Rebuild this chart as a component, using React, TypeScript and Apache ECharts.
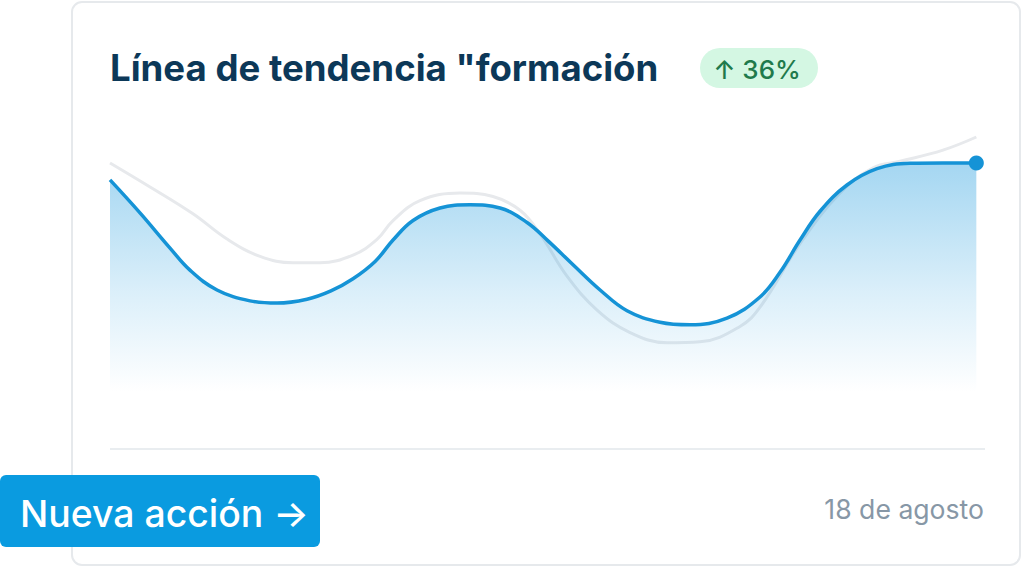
import React, { useEffect, useRef } from "react";
import * as echarts from "echarts";

const titleText = 'Línea de tendencia "formación';
const badgeText = "↑ 36%";
const buttonText = "Nueva acción →";
const dateText = "18 de agosto";

const trendX = [0, 3.46, 6.93, 9.23, 12.35, 16.16, 19.28, 22.74, 25.5, 28.05, 30.6, 32.67, 34.98, 38.09, 41.56, 45.02, 48.14, 50.5, 53.45, 56.57, 59.68, 63.49, 66.95, 71.22, 75.03, 77.34, 79.65, 81.96, 85.07, 88.54, 92.35, 96.15, 100];
const trendY = [84.1, 73.8, 62.8, 55.9, 49.7, 46.3, 45.6, 46.8, 49.4, 53.2, 58.6, 65.3, 71.4, 75.3, 76.3, 75.3, 70.8, 65.2, 57.6, 49.7, 43.2, 39.6, 38.8, 40.9, 47.5, 55.2, 65.3, 74.3, 82.5, 87.6, 89.3, 89.4, 89.4];

const refX = [0, 4.62, 9.58, 13.51, 17.32, 21.12, 24.24, 28.05, 30.82, 32.67, 35.78, 40.4, 44.21, 47.33, 49.64, 52.75, 56.22, 60.03, 64.3, 68.1, 72.72, 75.03, 79.65, 84.27, 88.08, 91.19, 96.15, 100];
const refY = [89.4, 81.9, 73.5, 65.6, 60.2, 58.2, 58.2, 60.6, 65.5, 71.4, 77.6, 80, 78.9, 74.6, 67.2, 54, 43.4, 36.4, 33.2, 33.5, 38.3, 44.3, 64.2, 80, 87.9, 89.9, 93.4, 97.5];

const BLUE = "#1593d6";
const FONT = "Inter, 'Noto Sans', sans-serif";

export default function App() {
  const ref = useRef<HTMLDivElement>(null);
  useEffect(() => {
    if (!ref.current) return;
    const chart = echarts.init(ref.current, undefined, { renderer: "svg" });
    const trend = trendX.map((x, i) => [x, trendY[i]]);
    const reference = refX.map((x, i) => [x, refY[i]]);
    chart.setOption({
      animation: false,
      backgroundColor: "#ffffff",
      grid: { left: 110, right: 39, top: 129, bottom: 118 },
      xAxis: {
        type: "value",
        min: 0,
        max: 101,
        axisLine: { show: false },
        axisTick: { show: false },
        axisLabel: { show: false },
        splitLine: { show: false },
      },
      yAxis: {
        type: "value",
        min: 0,
        max: 100,
        axisLine: { show: false },
        axisTick: { show: false },
        axisLabel: { show: false },
        splitLine: { show: false },
      },
      graphic: [
        {
          type: "rect",
          shape: { x: 72, y: 2, width: 948, height: 563, r: 10 },
          style: { fill: "#ffffff", stroke: "#e6e9ec", lineWidth: 2 },
          z: -10,
        },
        {
          type: "line",
          shape: { x1: 110, y1: 449, x2: 985, y2: 449 },
          style: { stroke: "#e9edf0", lineWidth: 2 },
          z: 1,
        },
        {
          type: "text",
          x: 110,
          y: 68,
          style: {
            text: titleText,
            font: `bold 36.6px ${FONT}`,
            fill: "#0c3858",
            verticalAlign: "middle",
          },
        },
        {
          type: "rect",
          shape: { x: 700, y: 48, width: 118, height: 40, r: 20 },
          style: { fill: "#d4f7e3" },
        },
        {
          type: "text",
          x: 757,
          y: 69,
          style: {
            text: badgeText,
            font: `500 26px ${FONT}`,
            fill: "#1f7a4c",
            align: "center",
            verticalAlign: "middle",
          },
        },
        {
          type: "rect",
          shape: { x: 0, y: 475, width: 320, height: 72, r: 6 },
          style: { fill: "#0a9be0" },
          z: 5,
        },
        {
          type: "text",
          x: 20,
          y: 513,
          style: {
            text: buttonText,
            font: `500 37.4px ${FONT}`,
            fill: "#ffffff",
            verticalAlign: "middle",
          },
          z: 6,
        },
        {
          type: "text",
          x: 984,
          y: 509,
          style: {
            text: dateText,
            font: `400 26.6px ${FONT}`,
            fill: "#8797a6",
            align: "right",
            verticalAlign: "middle",
          },
        },
      ],
      series: [
        {
          type: "line",
          data: reference,
          smooth: 0.4,
          symbol: "none",
          lineStyle: { color: "#e7e9ec", width: 3 },
          z: 2,
        },
        {
          type: "line",
          data: trend,
          smooth: 0.4,
          showSymbol: true,
          symbol: "circle",
          symbolSize: (_v: any, p: any) => (p.dataIndex === trendX.length - 1 ? 15 : 0),
          itemStyle: { color: BLUE },
          lineStyle: { color: BLUE, width: 3.5 },
          areaStyle: {
            color: new echarts.graphic.LinearGradient(0, 0, 0, 1, [
              { offset: 0, color: "rgba(20,150,220,0.55)" },
              { offset: 0.45, color: "rgba(20,150,220,0.22)" },
              { offset: 0.8, color: "rgba(20,150,220,0)" },
              { offset: 1, color: "rgba(20,150,220,0)" },
            ]),
          },
          z: 3,
        },
      ],
    });
    return () => chart.dispose();
  }, []);
  return (
    <div
      ref={ref}
      style={{ position: "absolute", left: 0, top: 0, width: 1024, height: 567 }}
    />
  );
}
